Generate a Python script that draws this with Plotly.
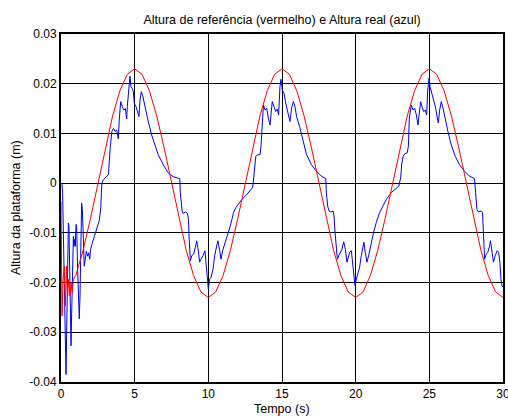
import plotly.graph_objects as go

# Reference height (red)
red_t = [0, 0.07, 0.14, 0.23, 0.29, 0.38, 0.45, 0.52, 0.61, 0.68, 0.77, 0.84, 1.0,
         1.5, 2.0, 2.5, 3.0, 3.5, 4.0, 4.5, 5.0, 5.5, 6.0, 6.5, 7.0, 7.5, 8.0, 8.5, 9.0, 9.5,
         10.0, 10.5, 11.0, 11.5, 12.0, 12.5, 13.0, 13.5, 14.0, 14.5, 15.0, 15.5, 16.0, 16.5,
         17.0, 17.5, 18.0, 18.5, 19.0, 19.5, 20.0, 20.5, 21.0, 21.5, 22.0, 22.5, 23.0, 23.5,
         24.0, 24.5, 25.0, 25.5, 26.0, 26.5, 27.0, 27.5, 28.0, 28.5, 29.0, 29.5, 30.0]
red_v = [-0.0037, -0.0267, -0.0193, -0.0167, -0.0247, -0.0167, -0.0227, -0.0193, -0.0227,
         -0.0200, -0.0220, -0.0193, -0.0186,
         -0.0135, -0.0071, 0.0, 0.0071, 0.0135, 0.0186, 0.0219, 0.0230, 0.0219, 0.0186, 0.0135,
         0.0071, 0.0, -0.0071, -0.0135, -0.0186, -0.0219,
         -0.0230, -0.0219, -0.0186, -0.0135, -0.0071, 0.0, 0.0071, 0.0135, 0.0186, 0.0219,
         0.0230, 0.0219, 0.0186, 0.0135,
         0.0071, 0.0, -0.0071, -0.0135, -0.0186, -0.0219, -0.0230, -0.0219, -0.0186, -0.0135,
         -0.0071, 0.0, 0.0071, 0.0135,
         0.0186, 0.0219, 0.0230, 0.0219, 0.0186, 0.0135, 0.0071, 0.0, -0.0071, -0.0135,
         -0.0186, -0.0219, -0.0230]

# Real height (blue)
blue_t = [0, 0.07, 0.11, 0.18, 0.27, 0.34, 0.38, 0.45, 0.5, 0.54, 0.59, 0.63, 0.68, 0.72,
          0.77, 0.84, 0.88, 0.93, 0.97, 1.02, 1.06, 1.13, 1.18, 1.24, 1.29, 1.33, 1.4, 1.45,
          1.52, 1.58, 1.65, 1.72, 1.81, 1.88, 1.95, 2.01, 2.1, 2.26, 2.44, 2.6, 2.7, 2.77,
          2.88, 3.22, 3.33, 3.45, 3.56, 3.67, 3.78, 3.89, 3.96, 4.05, 4.16, 4.27, 4.37, 4.41,
          4.46, 4.5, 4.62, 4.68, 4.75, 4.84, 4.91, 4.98, 5.09, 5.18, 5.29, 5.36, 5.45, 5.54,
          5.65, 5.74, 5.92, 6.15, 6.37, 6.6, 6.94, 7.27, 7.61, 8.06, 8.1, 8.22, 8.29, 8.45,
          8.58, 8.65, 8.7, 8.78, 8.87, 9.0, 9.12, 9.21, 9.32, 9.41, 9.5, 9.64, 9.77, 9.86,
          9.93, 10.0, 10.09, 10.18, 10.32, 10.43, 10.59, 10.65, 10.77, 10.86, 10.97, 11.08,
          11.22, 11.37, 11.49, 11.6, 11.71, 11.87, 12.05, 12.27, 12.61, 13.0, 13.06, 13.13,
          13.22, 13.33, 13.51, 13.58, 13.65, 13.74, 13.85, 13.96, 14.07, 14.19, 14.25, 14.34,
          14.46, 14.57, 14.68, 14.77, 14.86, 14.93, 15.02, 15.14, 15.23, 15.36, 15.45, 15.54,
          15.65, 15.77, 15.88, 15.99, 16.21, 16.44, 16.66, 17.0, 17.34, 17.67, 17.97, 18.01,
          18.1, 18.19, 18.31, 18.47, 18.53, 18.6, 18.69, 18.76, 18.85, 18.96, 19.07, 19.19,
          19.3, 19.41, 19.5, 19.59, 19.71, 19.77, 19.86, 19.95, 20.05, 20.16, 20.27, 20.38,
          20.5, 20.56, 20.65, 20.77, 20.9, 21.06, 21.22, 21.4, 21.63, 21.85, 22.08, 22.42,
          22.93, 23.06, 23.12, 23.22, 23.33, 23.5, 23.58, 23.64, 23.78, 23.89, 24.0, 24.12,
          24.23, 24.32, 24.41, 24.5, 24.62, 24.73, 24.82, 24.89, 24.98, 25.05, 25.14, 25.23,
          25.32, 25.43, 25.54, 25.61, 25.7, 25.81, 25.93, 26.04, 26.26, 26.49, 26.76, 27.05,
          27.39, 27.73, 28.07, 28.14, 28.23, 28.34, 28.52, 28.61, 28.68, 28.75, 28.86, 28.97,
          29.09, 29.15, 29.26, 29.35, 29.47, 29.6, 29.7, 29.79, 29.86, 29.93, 30.0]
blue_v = [0.0, -0.0003, -0.002, -0.0173, -0.0273, -0.0385, -0.0307, -0.0207, -0.008, -0.0087,
          -0.0173, -0.0273, -0.0327, -0.0267, -0.0173, -0.0107, -0.0127, -0.0113, -0.0127,
          -0.0083, -0.0087, -0.0173, -0.024, -0.0273, -0.0227, -0.0107, -0.004, -0.0053,
          -0.0107, -0.0167, -0.0153, -0.0137, -0.0147, -0.014, -0.0153, -0.0133, -0.0123,
          -0.0107, -0.0093, -0.0075, -0.005, 0.0,
          0.0007, 0.0017, 0.0067, 0.0104, 0.011, 0.0104, 0.0107, 0.0089, 0.013, 0.0164, 0.0154,
          0.0147, 0.015, 0.0134, 0.0129, 0.0154, 0.0197, 0.0215, 0.0194, 0.019, 0.0184, 0.016,
          0.0154, 0.0144, 0.0134, 0.0167, 0.0184, 0.0177, 0.016, 0.0144, 0.0124, 0.0097,
          0.0075, 0.0057, 0.0037, 0.0021, 0.0013, 0.0009, -0.0019, -0.0056, -0.0061, -0.0058,
          -0.0061, -0.0073, -0.0113, -0.0156, -0.0146, -0.0143, -0.0129, -0.0116, -0.0136,
          -0.0159, -0.0153, -0.0146, -0.0136, -0.0163, -0.0193, -0.0213, -0.0193, -0.019,
          -0.0173, -0.0146, -0.0123, -0.0116, -0.0136, -0.0153, -0.0136, -0.0126, -0.0109,
          -0.0099, -0.0086, -0.0073, -0.0059, -0.0049, -0.0041, -0.0033, -0.0023, -0.0009,
          0.0004, 0.0031, 0.0054, 0.0057, 0.0057, 0.0077, 0.0114, 0.0157, 0.0147, 0.0151,
          0.0131, 0.0117, 0.0137, 0.0164, 0.0154, 0.0144, 0.0149, 0.0137, 0.0194, 0.0209,
          0.0187, 0.0181, 0.0164, 0.0147, 0.0134, 0.0124, 0.0151, 0.0164, 0.0154, 0.0134,
          0.0112, 0.0084, 0.0058, 0.0037, 0.0024, 0.0014, 0.0009, -0.0019, -0.0046, -0.0056,
          -0.0058, -0.0056, -0.0066, -0.0099, -0.0139, -0.0153, -0.0146, -0.0139, -0.0133,
          -0.0118, -0.0133, -0.0159, -0.0146, -0.0139, -0.0136, -0.0153, -0.0186, -0.0206,
          -0.0193, -0.0179, -0.0169, -0.0146, -0.0126, -0.0119, -0.0139, -0.0159, -0.0143,
          -0.0119, -0.0099, -0.0079, -0.0059, -0.0046, -0.0033, -0.0019, -0.0006, 0.0012,
          0.0037, 0.0054, 0.0059, 0.0061, 0.0075, 0.0131, 0.0157, 0.0147, 0.0151, 0.0137,
          0.0117, 0.0141, 0.0164, 0.0154, 0.0144, 0.0147, 0.0137, 0.0187, 0.0211, 0.0194,
          0.0184, 0.0174, 0.0164, 0.0151, 0.0131, 0.0121, 0.0147, 0.0164, 0.0151, 0.0134,
          0.0104, 0.0077, 0.0054, 0.0037, 0.0024, 0.0014, 0.0009, -0.0019, -0.0053, -0.0058,
          -0.0056, -0.0059, -0.0106, -0.0153, -0.0143, -0.0139, -0.0126, -0.0116, -0.0139,
          -0.0159, -0.0146, -0.0136, -0.0139, -0.0159, -0.0193, -0.0206, -0.0209]

x_ticks = [0, 5, 10, 15, 20, 25, 30]
x_tick_labels = ["0", "5", "10", "15", "20", "25", "30"]
y_ticks = [0.03, 0.02, 0.01, 0, -0.01, -0.02, -0.03, -0.04]
y_tick_labels = ["0.03", "0.02", "0.01", "0", "-0.01", "-0.02", "-0.03", "-0.04"]

FONT = "Liberation Sans, Arial, sans-serif"
LABEL_SIZE = 12.5

fig = go.Figure()
fig.add_trace(go.Scatter(x=blue_t, y=blue_v, mode="lines",
                         line=dict(color="#0000FF", width=1), showlegend=False))
fig.add_trace(go.Scatter(x=red_t, y=red_v, mode="lines",
                         line=dict(color="#FF0000", width=1), showlegend=False))

axis_common = dict(showline=True, linecolor="black", linewidth=2, mirror=True,
                   showgrid=True, gridcolor="black", gridwidth=1, zeroline=False,
                   automargin=False, ticklabeloverflow="allow",
                   ticks="", tickfont=dict(family=FONT, size=12, color="black"))

fig.update_layout(
    width=508, height=418,
    margin=dict(l=61, r=5, t=34, b=36, autoexpand=False),
    paper_bgcolor="white", plot_bgcolor="white",
    font=dict(family=FONT, color="black"),
    title=dict(text="Altura de referência (vermelho) e Altura real (azul)",
               font=dict(family=FONT, size=LABEL_SIZE, color="black"),
               x=0.5, xref="paper", xanchor="center",
               y=1 - 20 / 418, yref="container", yanchor="middle"),
    xaxis=dict(range=[0, 30], tickvals=x_ticks, ticktext=x_tick_labels, **axis_common),
    yaxis=dict(range=[-0.04, 0.03], tickvals=y_ticks, ticktext=y_tick_labels, **axis_common),
    annotations=[
        dict(text="Tempo (s)", xref="paper", yref="paper", x=0.5, y=-(409 - 382) / 348,
             xanchor="center", yanchor="middle", showarrow=False,
             font=dict(family=FONT, size=LABEL_SIZE, color="black")),
        dict(text="Altura da plataforma (m)", xref="paper", yref="paper",
             x=(16 - 61) / 442, y=0.5, textangle=-90,
             xanchor="center", yanchor="middle", showarrow=False,
             font=dict(family=FONT, size=LABEL_SIZE, color="black")),
    ],
)

fig.write_html("out.html", post_script="document.body.style.margin='0';",
               config={"displayModeBar": False})
